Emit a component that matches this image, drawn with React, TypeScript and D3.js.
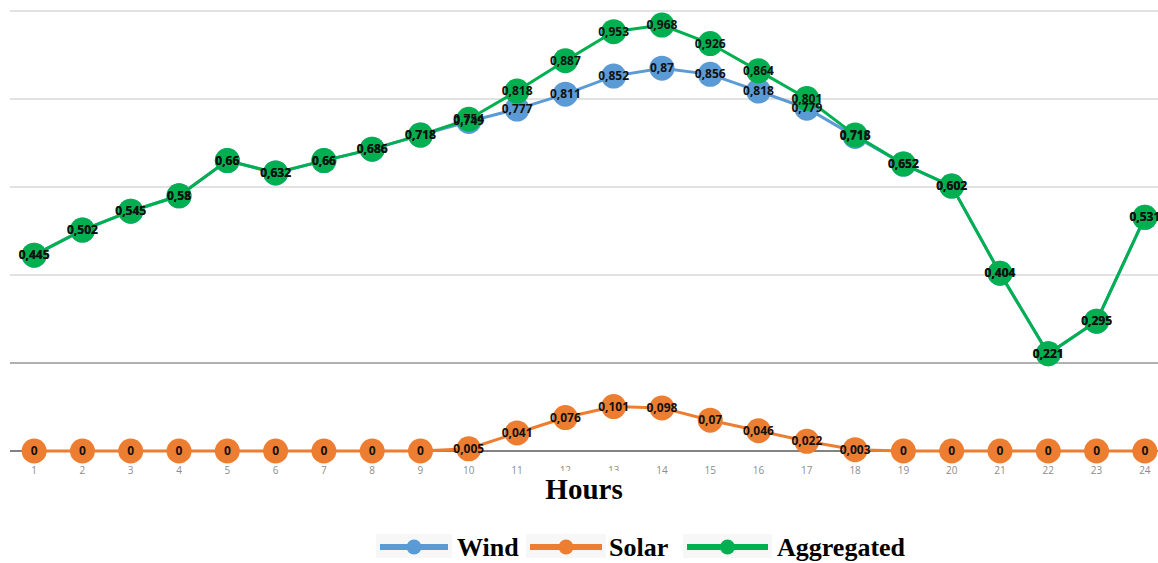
import React from "react";
import * as d3 from "d3";

const hours = ["1","2","3","4","5","6","7","8","9","10","11","12","13","14","15","16","17","18","19","20","21","22","23","24"];
const wind = [0.445,0.502,0.545,0.58,0.66,0.632,0.66,0.686,0.718,0.749,0.777,0.811,0.852,0.87,0.856,0.818,0.779,0.715,0.652,0.602,0.404,0.221,0.295,0.531];
const solar = [0,0,0,0,0,0,0,0,0,0.005,0.041,0.076,0.101,0.098,0.07,0.046,0.022,0.003,0,0,0,0,0,0];
const aggregated = [0.445,0.502,0.545,0.58,0.66,0.632,0.66,0.686,0.718,0.754,0.818,0.887,0.953,0.968,0.926,0.864,0.801,0.718,0.652,0.602,0.404,0.221,0.295,0.531];
const gridValues = [0.2, 0.4, 0.6, 0.8, 1.0];

const seriesList = [
  { name: "Wind", values: wind, color: "#5B9BD5" },
  { name: "Solar", values: solar, color: "#ED7D31" },
  { name: "Aggregated", values: aggregated, color: "#00B050" },
];

const W = 1158;
const H = 563;

export default function App() {
  const x = d3.scaleBand<string>().domain(hours).range([10, 1169]);
  const y = d3.scaleLinear().domain([0, 1]).range([451, 11]);
  const cx = (h: string) => (x(h) as number) + x.bandwidth() / 2;
  const line = d3
    .line<number>()
    .x((_, i) => cx(hours[i]))
    .y((v) => y(v));
  const fmt = (v: number) => String(v).replace(".", ",");

  const legend = [
    { name: "Wind", color: "#5B9BD5", x0: 380, x1: 448, tx: 457 },
    { name: "Solar", color: "#ED7D31", x0: 530, x1: 602, tx: 609 },
    { name: "Aggregated", color: "#00B050", x0: 687, x1: 768, tx: 777 },
  ];

  return (
    <svg
      width={W}
      height={H}
      style={{ position: "absolute", left: 0, top: 0, background: "#fff" }}
    >
      {gridValues.map((g) => (
        <line
          key={g}
          x1={10}
          x2={W}
          y1={y(g)}
          y2={y(g)}
          stroke={g === 0.2 ? "#b0b0b0" : "#d9d9d9"}
          strokeWidth={g === 0.2 ? 2 : 1.5}
        />
      ))}
      <line x1={10} x2={W} y1={y(0)} y2={y(0)} stroke="#595959" strokeWidth={1.5} />
      {hours.map((h) => (
        <text
          key={h}
          x={cx(h)}
          y={474}
          textAnchor="middle"
          fontFamily="'Open Sans', sans-serif"
          fontSize={10}
          fill="#8c8c8c"
        >
          {h}
        </text>
      ))}
      {seriesList.map((s) => (
        <g key={s.name}>
          <path d={line(s.values) || ""} fill="none" stroke={s.color} strokeWidth={3} />
          {s.values.map((v, i) => (
            <circle key={i} cx={cx(hours[i])} cy={y(v)} r={12.5} fill={s.color} />
          ))}
        </g>
      ))}
      {seriesList.map((s) => (
        <g key={s.name + "-labels"}>
          {s.values.map((v, i) => (
            <text
              key={i}
              x={cx(hours[i])}
              y={y(v) + 4}
              textAnchor="middle"
              fontFamily="'Open Sans', sans-serif"
              fontWeight="bold"
              fontSize={12}
              fill="#111"
            >
              {fmt(v)}
            </text>
          ))}
        </g>
      ))}
      <rect x={541} y={471} width={86} height={32} fill="#fff" />
      <text
        x={584}
        y={499}
        textAnchor="middle"
        fontFamily="'Liberation Serif', 'Times New Roman', serif"
        fontWeight="bold"
        fontSize={29}
        fill="#000"
      >
        Hours
      </text>
      {legend.map((l) => (
        <g key={l.name}>
          <rect x={l.x0 - 4} y={534} width={l.x1 - l.x0 + 8} height={24} fill="#f7f7f7" />
          <line x1={l.x0} x2={l.x1} y1={547} y2={547} stroke={l.color} strokeWidth={6} />
          <circle cx={(l.x0 + l.x1) / 2} cy={547} r={7.5} fill={l.color} />
          <text
            x={l.tx}
            y={556}
            fontFamily="'Liberation Serif', 'Times New Roman', serif"
            fontWeight="bold"
            fontSize={26}
            fill="#000"
          >
            {l.name}
          </text>
        </g>
      ))}
    </svg>
  );
}
